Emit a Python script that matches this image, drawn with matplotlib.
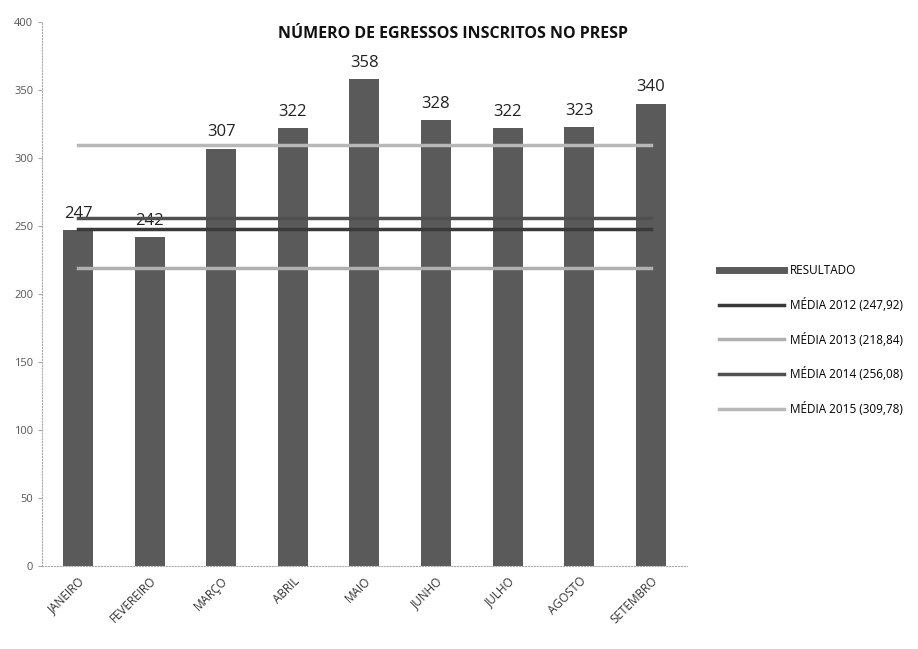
import matplotlib
matplotlib.use("Agg")
import matplotlib.pyplot as plt
from matplotlib.lines import Line2D

months = ["JANEIRO", "FEVEREIRO", "MARÇO", "ABRIL", "MAIO", "JUNHO", "JULHO", "AGOSTO", "SETEMBRO"]
resultado = [247, 242, 307, 322, 358, 328, 322, 323, 340]
media_labels = ["MÉDIA 2012 (247,92)", "MÉDIA 2013 (218,84)", "MÉDIA 2014 (256,08)", "MÉDIA 2015 (309,78)"]
media_values = [247.92, 218.84, 256.08, 309.78]
media_colors = ["#3a3a3a", "#b0b0b0", "#505050", "#b8b8b8"]
yticks = [0, 50, 100, 150, 200, 250, 300, 350, 400]

plt.rcParams['font.family'] = ['Open Sans', 'DejaVu Sans']

fig = plt.figure(figsize=(9.18, 6.49), dpi=100)
ax = fig.add_axes([0.046, 0.128, 0.702, 0.838])

x = list(range(len(months)))
ax.bar(x, resultado, width=0.42, color="#5a5a5a", zorder=2)
for xi, v in zip(x, resultado):
    ax.text(xi, v + 6, str(v), ha="center", va="bottom", fontsize=12, color="#222222")

for val, col in zip(media_values, media_colors):
    ax.plot([x[0], x[-1]], [val, val], color=col, lw=2.5, zorder=3)

ax.set_xlim(-0.5, len(months) - 0.5)
ax.set_ylim(0, 400)
ax.set_yticks(yticks)
ax.set_yticklabels([str(t) for t in yticks], fontsize=8, color="#555555")
ax.set_xticks(x)
ax.set_xticklabels(months, rotation=45, ha="right", rotation_mode="anchor", fontsize=8.5, color="#333333")
ax.tick_params(axis="x", length=0, pad=6)
ax.tick_params(axis="y", length=3, color="#aaaaaa")
for s in ["top", "right"]:
    ax.spines[s].set_visible(False)
ax.spines["left"].set_color("#aaaaaa")
ax.spines["left"].set_linestyle(":")
ax.spines["bottom"].set_color("#aaaaaa")
ax.spines["bottom"].set_linestyle(":")

fig.text(0.493, 0.947, "NÚMERO DE EGRESSOS INSCRITOS NO PRESP", ha="center", va="center",
         fontsize=11.5, fontweight="bold", color="#111111")

handles = [Line2D([0], [0], color="#5a5a5a", lw=5)]
for col in media_colors:
    handles.append(Line2D([0], [0], color=col, lw=2.5))
labels = ["RESULTADO"] + media_labels
fig.legend(handles, labels, loc="center left", bbox_to_anchor=(0.772, 0.476), frameon=False,
           fontsize=8.5, handlelength=5.5, labelspacing=1.75, handletextpad=0.5)

fig.savefig("out.png", dpi=100)
